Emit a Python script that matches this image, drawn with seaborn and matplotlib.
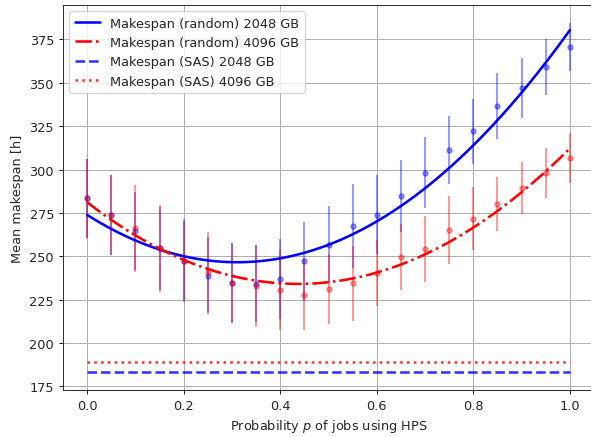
import numpy as np
import pandas as pd
import matplotlib
matplotlib.use("Agg")
import matplotlib.pyplot as plt
import seaborn as sns

# ---- data ----
p_values = [0.0, 0.05, 0.1, 0.15, 0.2, 0.25, 0.3, 0.35, 0.4, 0.45, 0.5,
            0.55, 0.6, 0.65, 0.7, 0.75, 0.8, 0.85, 0.9, 0.95, 1.0]
mean_2048 = [283.3, 273.8, 264.6, 254.6, 247.4, 238.8, 234.6, 234.2, 236.9, 247.1, 256.7,
             267.4, 274.0, 284.7, 298.2, 311.4, 322.1, 336.5, 346.9, 359.1, 370.8]
err_2048 = [23.0, 23.0, 22.7, 24.0, 24.0, 22.0, 23.0, 22.0, 23.0, 22.8, 22.0,
            24.0, 23.0, 21.0, 20.4, 19.7, 18.7, 19.0, 17.3, 16.4, 13.7]
mean_4096 = [283.3, 273.8, 266.1, 254.6, 247.4, 241.1, 234.6, 232.7, 230.5, 227.8, 231.1,
             234.4, 240.2, 249.6, 254.0, 265.0, 271.7, 280.0, 289.4, 298.0, 306.5]
err_4096 = [23.0, 23.0, 25.0, 25.0, 22.5, 23.0, 23.0, 23.7, 23.0, 20.5, 20.0,
            21.5, 19.0, 19.0, 19.0, 19.6, 18.0, 15.5, 15.0, 14.2, 14.4]
# quadratic fit coefficients (c2, c1, c0)
fit_coef_2048 = [282.0, -175.4, 273.8]
fit_coef_4096 = [246.6, -215.5, 281.1]
sas_2048 = 183.1
sas_4096 = 189.2

labels = ["Makespan (random) 2048 GB", "Makespan (random) 4096 GB",
          "Makespan (SAS) 2048 GB", "Makespan (SAS) 4096 GB"]

p = np.array(p_values)
df = pd.DataFrame({"p": p, "m2048": mean_2048, "e2048": err_2048,
                   "m4096": mean_4096, "e4096": err_4096})

pf = np.linspace(0, 1, 200)
fit_df = pd.DataFrame({"p": pf,
                       "f2048": np.polyval(fit_coef_2048, pf),
                       "f4096": np.polyval(fit_coef_4096, pf)})
sas_df = pd.DataFrame({"p": [p_values[0], p_values[-1]],
                       "s2048": [sas_2048] * 2, "s4096": [sas_4096] * 2})

sns.set_style("ticks")
plt.rcParams["font.family"] = ["DejaVu Sans"]
plt.rcParams["font.size"] = 10

DPI = 92.34
fig = plt.figure(figsize=(591 / DPI, 438 / DPI), dpi=DPI)
ax = fig.add_axes([63 / 591, (438 - 390.7) / 438, 531 / 591, (390.7 - 6) / 438])

ax.errorbar(df["p"], df["m2048"], yerr=df["e2048"], fmt="o", color="blue",
            alpha=0.4, ms=4, elinewidth=1.6, capsize=0, zorder=2)
ax.errorbar(df["p"], df["m4096"], yerr=df["e4096"], fmt="o", color="red",
            alpha=0.4, ms=4, elinewidth=1.6, capsize=0, zorder=2)

sns.lineplot(data=fit_df, x="p", y="f2048", ax=ax, color="blue", lw=2,
             label=labels[0], zorder=3)
sns.lineplot(data=fit_df, x="p", y="f4096", ax=ax, color="red", lw=2,
             linestyle="-.", label=labels[1], zorder=3)
sns.lineplot(data=sas_df, x="p", y="s2048", ax=ax, color="blue", lw=2, alpha=0.8,
             linestyle="--", label=labels[2], zorder=3)
sns.lineplot(data=sas_df, x="p", y="s4096", ax=ax, color="red", lw=2, alpha=0.8,
             linestyle=":", label=labels[3], zorder=3)

ax.set_xlim(-0.05, 1.05)
ax.set_ylim(173.0, 394.9)
ax.set_xticks([0.0, 0.2, 0.4, 0.6, 0.8, 1.0])
ax.set_yticks([175, 200, 225, 250, 275, 300, 325, 350, 375])
ax.grid(True, color="#b0b0b0", lw=0.8)
ax.set_axisbelow(True)
for s in ax.spines.values():
    s.set_visible(True)
    s.set_color("#333333")
ax.set_xlabel("Probability $p$ of jobs using HPS")
ax.set_ylabel("Mean makespan [h]")
ax.legend(loc="upper left", fontsize=10, framealpha=0.8)

fig.savefig("out.png", dpi=DPI)
